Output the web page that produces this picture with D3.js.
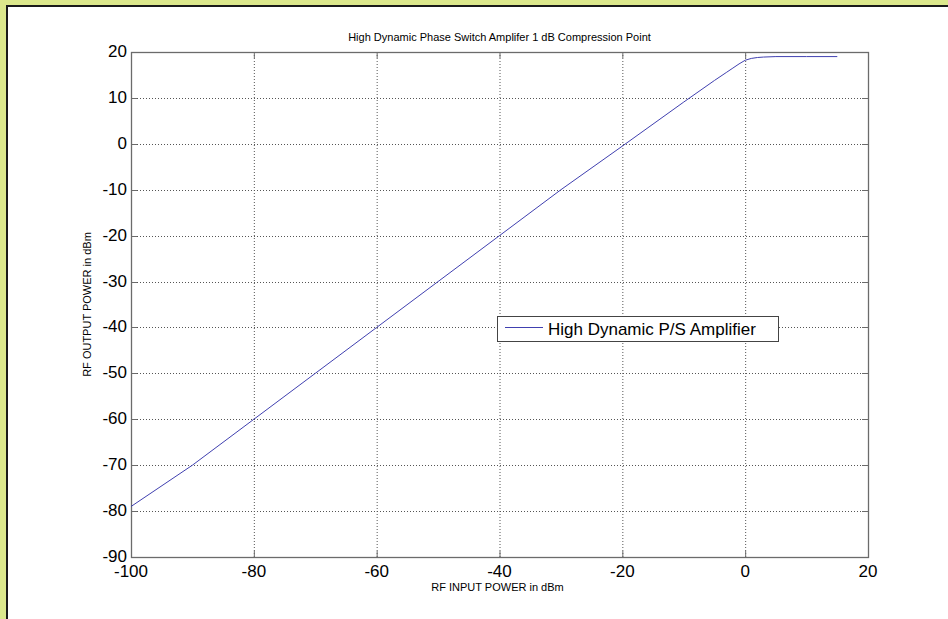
<!DOCTYPE html>
<html><head><meta charset="utf-8">
<script src="https://cdn.jsdelivr.net/npm/d3@7"></script>
<style>
html,body{margin:0;padding:0;background:#dce88c;}
svg{display:block;}
</style></head>
<body>
<svg id="c" width="948" height="619"></svg>
<script>
const inputPower = [-100, -90, -80, -70, -60, -50, -40, -30, -20, -10, -5, -3, -2, -1, 0, 1, 2, 3, 5, 10, 15];
const outputPower = [-79, -70, -60, -50, -40, -30, -20, -10, -0.5, 9.1, 13.8, 15.6, 16.5, 17.4, 18.2, 18.6, 18.8, 18.9, 19, 19, 19];
const xTicks = [-100, -80, -60, -40, -20, 0, 20];
const yTicks = [20, 10, 0, -10, -20, -30, -40, -50, -60, -70, -80, -90];
const titleText = "High Dynamic Phase Switch Amplifer 1 dB Compression Point";
const xLabel = "RF INPUT POWER in dBm";
const yLabel = "RF OUTPUT POWER in dBm";
const legendLabel = "High Dynamic P/S Amplifier";

const svg = d3.select("#c");
svg.append("rect").attr("x",0).attr("y",0).attr("width",948).attr("height",619).attr("fill","#dce88c");
svg.append("rect").attr("x",7).attr("y",5).attr("width",941).attr("height",614).attr("fill","#ffffff");
svg.append("line").attr("x1",6).attr("x2",948).attr("y1",6).attr("y2",6).attr("stroke","#1a1a1a").attr("stroke-width",2);
svg.append("line").attr("x1",7).attr("x2",7).attr("y1",5).attr("y2",619).attr("stroke","#1a1a1a").attr("stroke-width",2);

const L=131, R=868, T=52, B=557;
const x = d3.scaleLinear().domain([-100,20]).range([L,R]);
const y = d3.scaleLinear().domain([-90,20]).range([B,T]);

const g = svg.append("g");
g.selectAll(".gx").data(xTicks.slice(1,-1)).enter().append("line")
  .attr("x1",d=>x(d)+0.5).attr("x2",d=>x(d)+0.5).attr("y1",T).attr("y2",B)
  .attr("stroke","#555").attr("stroke-width",1).attr("stroke-dasharray","1,2");
g.selectAll(".gy").data(yTicks.slice(1,-1)).enter().append("line")
  .attr("y1",d=>Math.round(y(d))+0.5).attr("y2",d=>Math.round(y(d))+0.5).attr("x1",L).attr("x2",R)
  .attr("stroke","#555").attr("stroke-width",1).attr("stroke-dasharray","1,2");

g.append("rect").attr("x",L+0.5).attr("y",T+0.5).attr("width",R-L).attr("height",B-T)
  .attr("fill","none").attr("stroke","#6b6b6b").attr("stroke-width",1.3);

const tl=6;
xTicks.forEach(v=>{
  g.append("line").attr("x1",x(v)+0.5).attr("x2",x(v)+0.5).attr("y1",B).attr("y2",B-tl).attr("stroke","#6b6b6b");
  g.append("line").attr("x1",x(v)+0.5).attr("x2",x(v)+0.5).attr("y1",T).attr("y2",T+tl).attr("stroke","#6b6b6b");
});
yTicks.forEach(v=>{
  const yy=Math.round(y(v))+0.5;
  g.append("line").attr("x1",L).attr("x2",L+tl).attr("y1",yy).attr("y2",yy).attr("stroke","#6b6b6b");
  g.append("line").attr("x1",R).attr("x2",R-tl).attr("y1",yy).attr("y2",yy).attr("stroke","#6b6b6b");
});

const font="Liberation Sans, Arial, sans-serif";
g.selectAll(".xl").data(xTicks).enter().append("text")
  .attr("x",d=>x(d)).attr("y",B+20).attr("text-anchor","middle")
  .attr("font-family",font).attr("font-size",17).attr("fill","#000").text(d=>d);
g.selectAll(".yl").data(yTicks).enter().append("text")
  .attr("x",L-4).attr("y",d=>y(d)+5).attr("text-anchor","end")
  .attr("font-family",font).attr("font-size",17).attr("fill","#000").text(d=>d);

const line = d3.line().x(d=>x(d[0])).y(d=>y(d[1]));
g.append("path").datum(inputPower.map((v,i)=>[v,outputPower[i]]))
  .attr("d",line).attr("fill","none").attr("stroke","#4040b0").attr("stroke-width",1);

svg.append("text").attr("x",(L+R)/2).attr("y",41).attr("text-anchor","middle")
  .attr("font-family",font).attr("font-size",11).attr("fill","#000").text(titleText);
svg.append("text").attr("x",(L+R)/2-2).attr("y",591).attr("text-anchor","middle")
  .attr("font-family",font).attr("font-size",11).attr("fill","#000").text(xLabel);
svg.append("text").attr("transform",`translate(91,${(T+B)/2}) rotate(-90)`).attr("text-anchor","middle")
  .attr("font-family",font).attr("font-size",11).attr("fill","#000").text(yLabel);

const lg = svg.append("g");
lg.append("rect").attr("x",497.5).attr("y",316.5).attr("width",281).attr("height",25)
  .attr("fill","#fff").attr("stroke","#444").attr("stroke-width",1);
lg.append("line").attr("x1",505).attr("x2",543).attr("y1",327.5).attr("y2",327.5).attr("stroke","#4040b0").attr("stroke-width",1);
lg.append("text").attr("x",548).attr("y",335).attr("font-family",font).attr("font-size",17).attr("fill","#000").text(legendLabel);
</script>
</body></html>
